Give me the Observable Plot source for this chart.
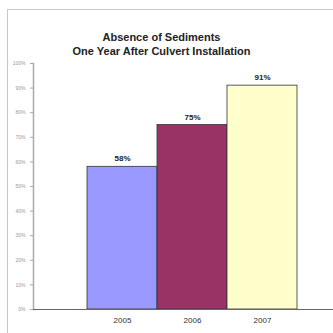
<!DOCTYPE html>
<html>
<head>
<meta charset="utf-8">
<script src="https://cdn.jsdelivr.net/npm/d3@7"></script>
<script src="https://cdn.jsdelivr.net/npm/@observablehq/plot@0.6"></script>
<style>
  html, body { margin: 0; padding: 0; background: #fff; }
  #wrap { position: relative; width: 333px; height: 333px; overflow: hidden; font-family: "Liberation Sans", Arial, sans-serif; }
  #frame { position: absolute; left: 7px; top: 9px; width: 340px; height: 340px; border-left: 1px solid #c8c8c8; border-top: 1px solid #c8c8c8; }
  .title { position: absolute; left: 0; width: 323px; text-align: center; font-weight: bold; font-size: 11px; color: #222; }
  #chart { position: absolute; left: 0; top: 0; }
</style>
</head>
<body>
<div id="wrap">
  <div id="frame"></div>
  <div class="title" style="top:31px">Absence of Sediments</div>
  <div class="title" style="top:45px">One Year After Culvert Installation</div>
  <div id="chart"></div>
</div>
<script>
const years = ["2005", "2006", "2007"];
const values = [0.58, 0.75, 0.91];
const colors = ["#9999ff", "#993366", "#ffffcc"];
const yTicks = [0, 0.1, 0.2, 0.3, 0.4, 0.5, 0.6, 0.7, 0.8, 0.9, 1.0];

const data = years.map((y, i) => ({year: y, value: values[i], color: colors[i]}));

const chart = Plot.plot({
  width: 333,
  height: 333,
  marginLeft: 33,
  marginRight: 0,
  marginTop: 63,
  marginBottom: 24,
  style: {background: "transparent", fontFamily: "Liberation Sans, Arial, sans-serif"},
  x: {domain: years, range: [86, 297], padding: 0, label: null},
  y: {domain: [0, 1], label: null},
  marks: [
    Plot.axisY({ticks: yTicks, tickFormat: d3.format(".0%"), tickSize: 3, tickPadding: 5, fontSize: 5, color: "#999", stroke: "#aaa"}),
    Plot.frame({anchor: "left", stroke: "#aaa", strokeWidth: 1.5}),
    Plot.barY(data, {x: "year", y: "value", fill: "color", stroke: "#333", strokeWidth: 0.8, inset: 0}),
    Plot.ruleY([0], {stroke: "#666", strokeWidth: 1.2}),
    Plot.axisX({tickSize: 0, tickPadding: 8, fontSize: 8, color: "#333"}),
    Plot.text(data, {x: "year", y: "value", text: d => Math.round(d.value * 100) + "%", dy: -8, fontWeight: "bold", fontSize: 8, fill: "#222"})
  ]
});
document.getElementById("chart").appendChild(chart);
</script>
</body>
</html>
